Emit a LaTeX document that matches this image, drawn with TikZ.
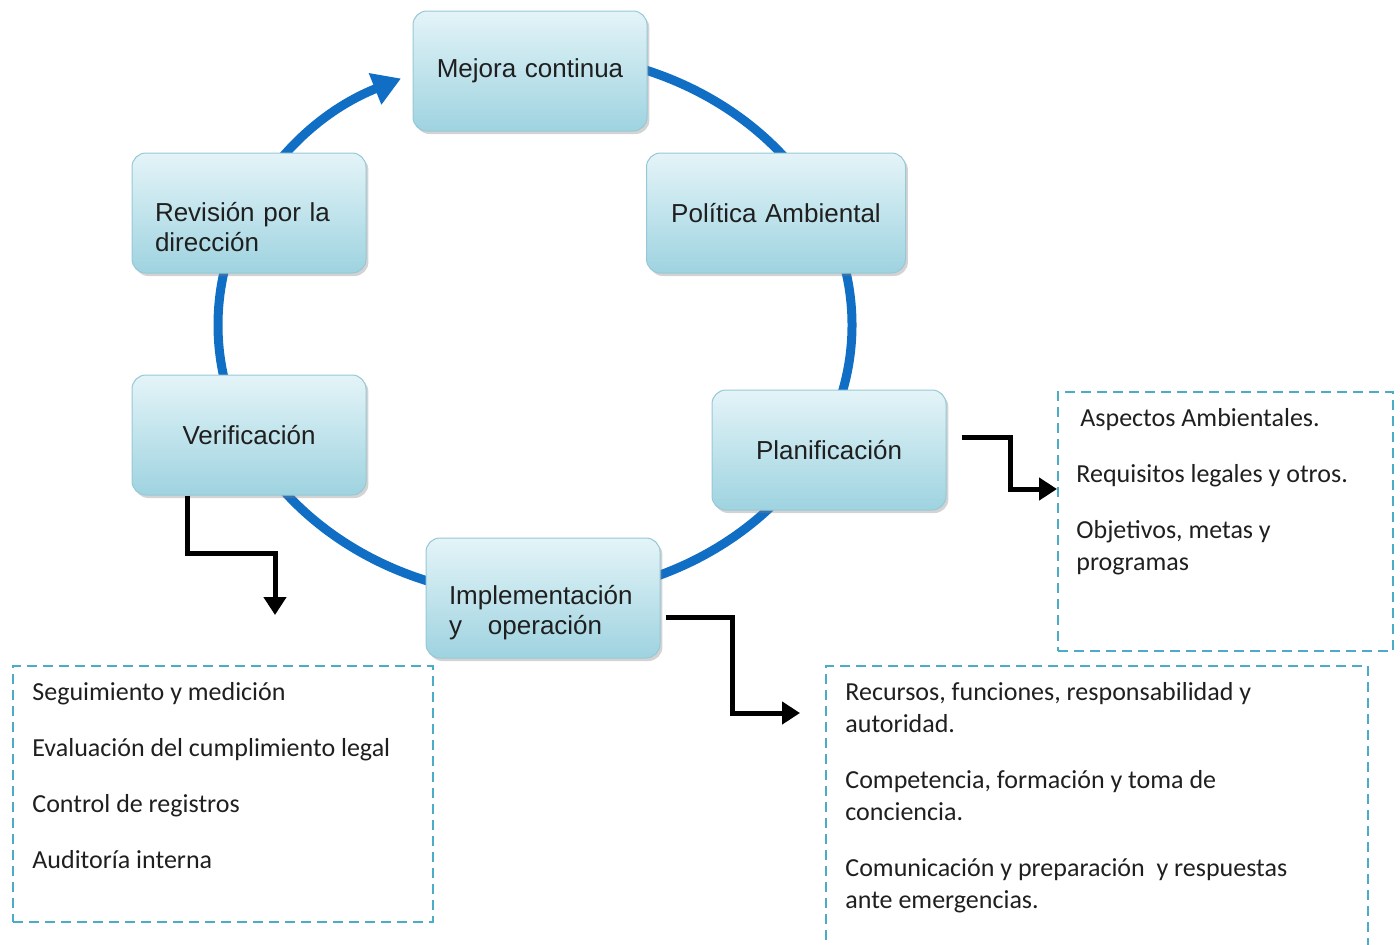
\documentclass[tikz,border=0pt]{standalone}
\usepackage{fontspec}
\setmainfont{Liberation Sans}
\newfontfamily\calfont{Carlito}
\usepackage{xcolor}
\usepackage{tikz}
\usetikzlibrary{arrows.meta}
\usetikzlibrary{calc}
\usetikzlibrary{shadows}
\definecolor{ringblue}{RGB}{16,110,196}
\definecolor{boxlight}{RGB}{228,244,248}
\definecolor{boxdark}{RGB}{158,211,224}
\definecolor{boxedge}{RGB}{150,200,214}
\definecolor{dashblue}{RGB}{75,172,198}
\colorlet{labeltext}{black!88}
\tikzstyle{stage}=[rectangle,rounded corners=7pt,draw=boxedge,line width=.5pt,top color=boxlight,bottom color=boxdark,
  drop shadow={shadow xshift=1.2pt,shadow yshift=-1.5pt,opacity=.35},minimum height=60pt,text width=94pt,inner xsep=11.5pt,
  font=\fontsize{13}{15}\selectfont,text=labeltext]
\tikzstyle{ring}=[line width=4.5pt,draw=ringblue,-{Triangle[length=14pt,width=16pt,fill=ringblue]}]
\tikzstyle{elbow}=[line width=2.5pt,-{Triangle[length=9pt,width=11pt]}]
\tikzstyle{listbox}=[draw=dashblue,line width=1pt,dash pattern=on 5pt off 3pt,anchor=north west]
\tikzstyle{listtext}=[anchor=north west,align=left,inner sep=0pt,font=\calfont\fontsize{13}{16}\selectfont,text=labeltext]

\begin{document}
\begin{tikzpicture}[x=.5pt,y=-.5pt]
	\path[use as bounding box,clip] (0,0) rectangle (1400,944);
	\coordinate (c) at (535,325);
	\draw[ring] ([shift={(-90:317 and 272)}]c) arc[start angle=-90,end angle=245,x radius=317,y radius=272];

	\node[stage,align=center] (mejora) at (530,71) {Mejora continua};
	\node[stage,align=center,text width=106.5pt] (politica) at (776,213) {Política Ambiental};
	\node[stage,align=center] (planif) at (829,450) {Planificación};
	\node[stage,align=left] (implem) at (543,598) {\vphantom{X}\\Implementación\\y~~~operación};
	\node[stage,align=center] (verif) at (249,435) {Verificación};
	\node[stage,align=left] (revision) at (249,213) {\vphantom{X}\\Revisión por la\\dirección};

	\node[listbox,minimum width=167.5pt,minimum height=129.5pt] (planbox) at (1057,391) {};
	\node[listbox,minimum width=210pt,minimum height=128pt] (verifbox) at (12,665) {};
	\node[listbox,minimum width=271pt,minimum height=150pt] (implbox) at (825,665) {};

	\node[listtext] (plantext) at (1076,408) {\hspace{2pt}Aspectos Ambientales.\\[12pt]
	  Requisitos legales y otros.\\[12pt] Objetivos, metas y\\ programas};
	\node[listtext] (veriftext) at (32,682) {Seguimiento y medición\\[12pt]
	  Evaluación del cumplimiento legal\\[12pt] Control de registros\\[12pt] Auditoría interna};
	\node[listtext] (impltext) at (845,682) {Recursos, funciones, responsabilidad y\\ autoridad.\\[12pt]
	  Competencia, formación y toma de\\ conciencia.\\[12pt]
	  Comunicación y preparación\ \ y respuestas\\ ante emergencias.};

	\coordinate (verifend) at (275,615);
	\coordinate (implend) at (800,713);
	\draw[elbow] ([xshift=7.5pt,yshift=6.5pt]planif.east) -- ++(49,0) |- ([yshift=16.25pt]planbox.west);
	\draw[elbow] ([xshift=2.5pt,yshift=-9.5pt]implem.east) -- ++(67,0) |- (implend);
	\draw[elbow] ([xshift=-31pt]verif.south) -- ++(0,58) -| (verifend);
\end{tikzpicture}
\end{document}
